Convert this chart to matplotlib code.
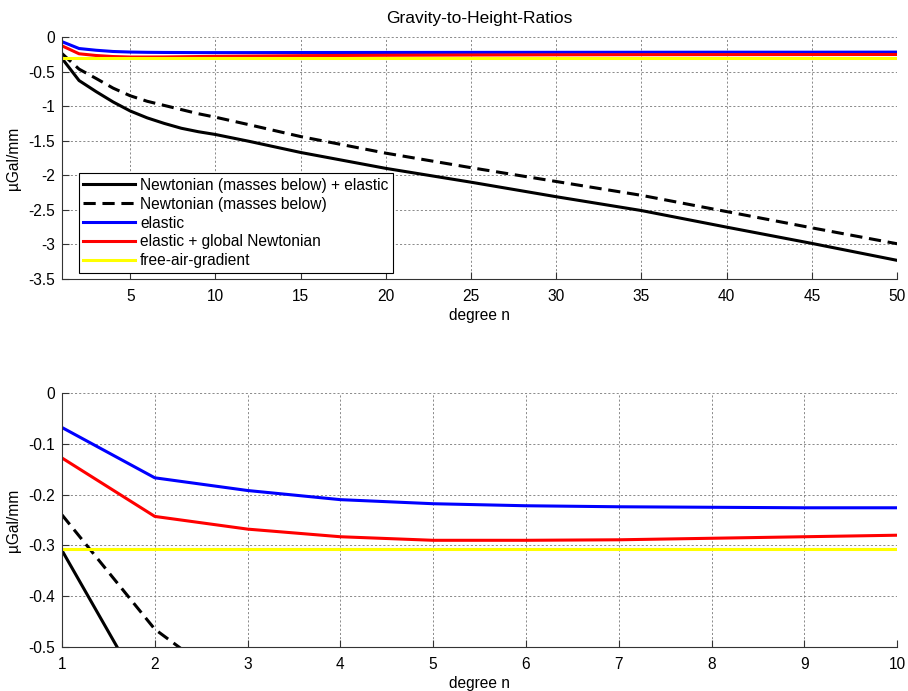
import numpy as np
from matplotlib import pyplot as plt

plt.rcParams['font.family'] = ['Liberation Sans', 'DejaVu Sans']
plt.rcParams['axes.unicode_minus'] = False

degrees = [1, 2, 3, 4, 5, 6, 7, 8, 9, 10, 12, 15, 20, 25, 30, 35, 40, 45, 50]

# Newtonian (masses below) + elastic
newton_elastic = [-0.31, -0.63, -0.79, -0.94, -1.07, -1.17, -1.25, -1.32, -1.37, -1.41,
                  -1.51, -1.67, -1.90, -2.10, -2.31, -2.51, -2.75, -2.985, -3.23]
# Newtonian (masses below)
newton = [-0.24, -0.465, -0.60, -0.74, -0.85, -0.93, -0.99, -1.05, -1.11, -1.16,
          -1.27, -1.44, -1.68, -1.89, -2.09, -2.29, -2.525, -2.76, -2.99]
elastic = [-0.068, -0.167, -0.192, -0.210, -0.218, -0.222, -0.224, -0.225, -0.226, -0.226,
           -0.226, -0.225, -0.224, -0.223, -0.222, -0.221, -0.220, -0.220, -0.219]
elastic_global = [-0.128, -0.243, -0.268, -0.283, -0.290, -0.290, -0.289, -0.286, -0.283, -0.280,
                  -0.276, -0.270, -0.265, -0.261, -0.258, -0.256, -0.255, -0.254, -0.253]
free_air = [-0.308] * len(degrees)

labels = ['Newtonian (masses below) + elastic', 'Newtonian (masses below)',
          'elastic', 'elastic + global Newtonian', 'free-air-gradient']
series = [newton_elastic, newton, elastic, elastic_global, free_air]
styles = [('black', '-'), ('black', '--'), ('blue', '-'), ('red', '-'), ((1, 1, 0), '-')]

top_xticks = [5, 10, 15, 20, 25, 30, 35, 40, 45, 50]
top_yticks = [0, -0.5, -1, -1.5, -2, -2.5, -3, -3.5]
bot_xticks = [1, 2, 3, 4, 5, 6, 7, 8, 9, 10]
bot_yticks = [0, -0.1, -0.2, -0.3, -0.4, -0.5]

fs = 11.2


def style_axes(ax):
    for s in ['top', 'right']:
        ax.spines[s].set_visible(False)
    for s in ['left', 'bottom']:
        ax.spines[s].set_color('#333333')
        ax.spines[s].set_linewidth(0.8)
    ax.grid(True, color='#777777', linestyle=(0, (2.5, 2.5)), linewidth=0.6)
    ax.tick_params(direction='in', length=5, width=0.8, color='#333333', labelsize=fs)
    ax.tick_params(axis='x', pad=7)
    ax.tick_params(axis='y', pad=5)
    ax.set_axisbelow(True)


fig = plt.figure(figsize=(9.08, 6.91), dpi=100)
ax1 = fig.add_axes([0.0683, 0.5962, 0.9197, 0.3503])
ax2 = fig.add_axes([0.0683, 0.0637, 0.9197, 0.3676])

for ax in (ax1, ax2):
    for vals, lab, (c, ls) in zip(series, labels, styles):
        ax.plot(degrees, vals, color=c, linestyle=ls, linewidth=2.2, label=lab,
                dashes=(4, 2.2) if ls == '--' else (None, None))
    style_axes(ax)
    ax.set_xlabel('degree n', fontsize=fs, labelpad=3)
    ax.set_ylabel('\u00b5Gal/mm', fontsize=fs, labelpad=5)

ax1.set_xlim(1, 50)
ax1.set_ylim(-3.5, 0)
ax1.set_xticks(top_xticks)
ax1.set_yticks(top_yticks)
ax1.set_yticklabels(['%g' % v for v in top_yticks])
ax1.set_title('Gravity-to-Height-Ratios', fontsize=12.5, pad=10)
leg = ax1.legend(loc='lower left', bbox_to_anchor=(0.02, 0.025), fontsize=fs,
                 frameon=True, fancybox=False, framealpha=1, edgecolor='black',
                 handlelength=3.3, handletextpad=0.35, labelspacing=0.25,
                 borderpad=0.3, borderaxespad=0)
leg.get_frame().set_linewidth(0.8)

ax2.set_xlim(1, 10)
ax2.set_ylim(-0.5, 0)
ax2.set_xticks(bot_xticks)
ax2.set_yticks(bot_yticks)
ax2.set_yticklabels(['%g' % v for v in bot_yticks])

fig.savefig('out.png', dpi=100)
